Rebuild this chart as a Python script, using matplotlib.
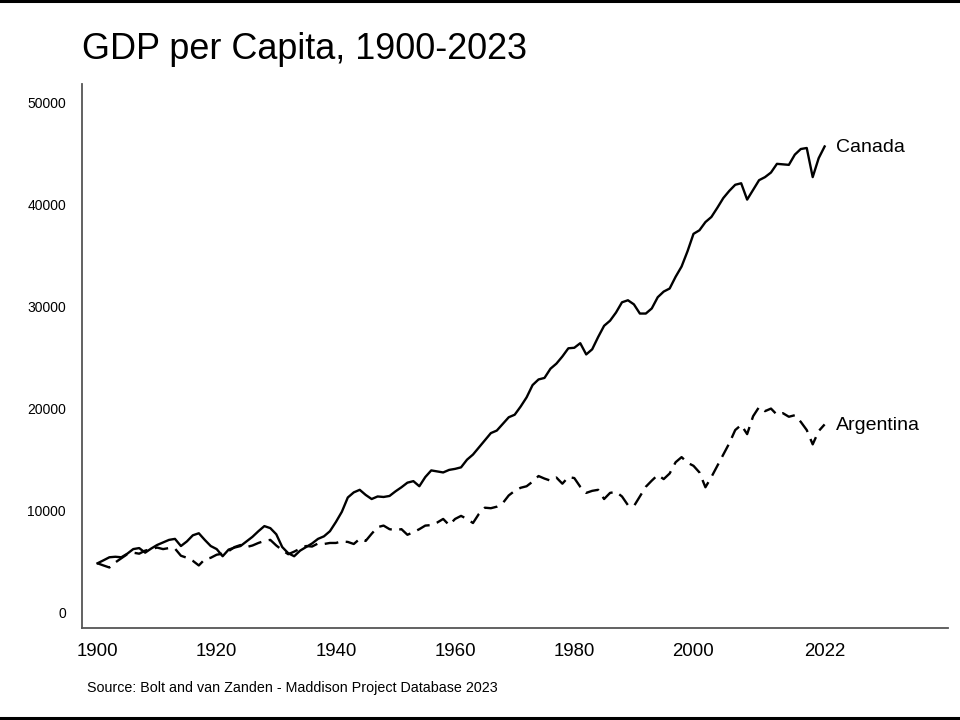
import matplotlib
matplotlib.use("Agg")
import matplotlib.pyplot as plt
from matplotlib.lines import Line2D

plt.rcParams['font.family'] = ['Liberation Sans', 'DejaVu Sans']

years = list(range(1900, 2023))

canada = [
    4860, 5150, 5450, 5500, 5450, 5800, 6250, 6350, 5900, 6300,
    6650, 6900, 7150, 7250, 6550, 7000, 7600, 7800, 7150, 6550,
    6250, 5550, 6200, 6400, 6550, 7000, 7450, 8000, 8500, 8300,
    7700, 6450, 5850, 5550, 6100, 6450, 6800, 7250, 7500, 8000,
    8900, 9900, 11300, 11800, 12050, 11550, 11150, 11400, 11350, 11450,
    11900, 12300, 12750, 12900, 12400, 13300, 13950, 13850, 13750, 14000,
    14100, 14250, 15000, 15500, 16200, 16900, 17600, 17850, 18500, 19150,
    19400, 20200, 21100, 22300, 22850, 23000, 23900, 24400, 25100, 25900,
    25950, 26400, 25300, 25800, 27000, 28100, 28600, 29400, 30400, 30600,
    30200, 29300, 29300, 29800, 30900, 31450, 31750, 32900, 33900, 35400,
    37100, 37450, 38250, 38750, 39650, 40600, 41300, 41900, 42050, 40450,
    41400, 42350, 42650, 43100, 43950, 43900, 43850, 44850, 45400, 45500,
    42650, 44500, 45650,
]

argentina = [
    4860, 4650, 4450, 4950, 5350, 5750, 5900, 5800, 6100, 6250,
    6400, 6250, 6350, 6300, 5600, 5400, 5100, 4650, 5250, 5400,
    5700, 5800, 6050, 6450, 6650, 6450, 6600, 6850, 7050, 7150,
    6600, 6150, 5750, 6000, 6300, 6550, 6500, 6800, 6750, 6850,
    6850, 7000, 6950, 6750, 7250, 7050, 7750, 8400, 8550, 8200,
    8100, 8200, 7650, 7900, 8200, 8550, 8600, 8850, 9200, 8600,
    9200, 9500, 9200, 8800, 9700, 10300, 10250, 10400, 10750, 11500,
    11950, 12250, 12400, 12850, 13400, 13150, 12950, 13250, 12650, 13300,
    13200, 12350, 11750, 11950, 12050, 11150, 11750, 11850, 11400, 10550,
    10450, 11400, 12350, 12950, 13500, 13100, 13650, 14750, 15250, 14700,
    14400, 13750, 12300, 13300, 14400, 15500, 16600, 17900, 18400, 17500,
    19250, 20150, 19750, 20000, 19400, 19550, 19200, 19350, 18700, 17900,
    16500, 17800, 18450,
]

x_ticks = [1900, 1920, 1940, 1960, 1980, 2000, 2022]
y_ticks = [0, 10000, 20000, 30000, 40000, 50000]

fig = plt.figure(figsize=(9.6, 7.2), dpi=100)
ax = fig.add_axes([0.0854, 0.1278, 0.9021, 0.7555])

ax.plot(years, canada, color='black', lw=1.7, solid_joinstyle='round')
ax.plot(years, argentina, color='black', lw=1.7, linestyle=(0, (5.8, 3.2)))

ax.annotate('Canada', xy=(years[-1], canada[-1]), xytext=(8, -1),
            textcoords='offset points', va='center', ha='left', fontsize=14)
ax.annotate('Argentina', xy=(years[-1], argentina[-1]), xytext=(8, -1),
            textcoords='offset points', va='center', ha='left', fontsize=14)

ax.set_xlim(1897.4, 2042.7)
ax.set_ylim(-1470, 51760)
ax.set_xticks(x_ticks)
ax.set_xticklabels([str(t) for t in x_ticks])
ax.set_yticks(y_ticks)
ax.set_yticklabels([str(t) for t in y_ticks])
ax.tick_params(axis='x', length=0, pad=11, labelsize=13.4)
ax.tick_params(axis='y', length=0, pad=11.5, labelsize=10)

for s in ['top', 'right']:
    ax.spines[s].set_visible(False)
for s in ['left', 'bottom']:
    ax.spines[s].set_color('#555555')
    ax.spines[s].set_linewidth(1.3)

fig.text(0.0854, 0.918, 'GDP per Capita, 1900-2023', fontsize=25.9,
         ha='left', va='baseline')
fig.text(0.0906, 1 - 688 / 720, 'Source: Bolt and van Zanden - Maddison Project Database 2023',
         fontsize=10.3, ha='left', va='center')

fig.add_artist(Line2D([0, 1], [0.998, 0.998], transform=fig.transFigure,
                      color='black', lw=2.2))
fig.add_artist(Line2D([0, 1], [0.003, 0.003], transform=fig.transFigure,
                      color='black', lw=2.2))

fig.savefig('out.png', dpi=100)
